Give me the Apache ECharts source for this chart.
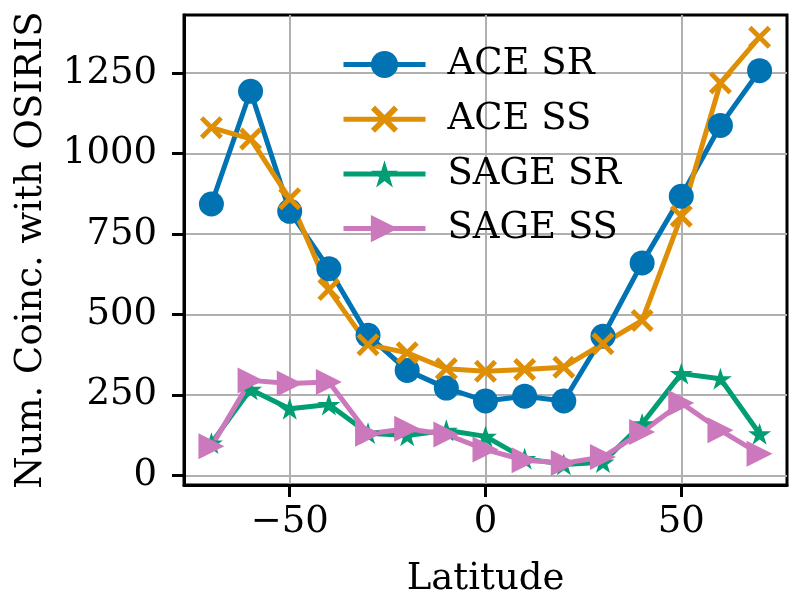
<!DOCTYPE html>
<html>
<head>
<meta charset="utf-8">
<script src="https://cdn.jsdelivr.net/npm/echarts@6/dist/echarts.min.js"></script>
<style>html,body{margin:0;padding:0;background:#fff;}#c{width:800px;height:606px;}</style>
</head>
<body>
<div id="c"></div>
<script>
const latitudes = [-70, -60, -50, -40, -30, -20, -10, 0, 10, 20, 30, 40, 50, 60, 70];
const aceSR  = [843, 1193, 820, 642, 435, 326, 271, 231, 246, 231, 432, 660, 867, 1087, 1257];
const aceSS  = [1080, 1045, 859, 577, 406, 381, 331, 323, 329, 336, 409, 481, 805, 1219, 1361];
const sageSR = [100, 267, 207, 220, 131, 124, 140, 121, 52, 34, 41, 160, 316, 300, 129];
const sageSS = [90, 295, 285, 290, 129, 145, 127, 80, 47, 38, 57, 135, 225, 140, 67];
const xTicks = [-50, 0, 50];
const yTicks = [0, 250, 500, 750, 1000, 1250];
const seriesNames = ['ACE SR', 'ACE SS', 'SAGE SR', 'SAGE SS'];
const colors = ['#0173b2', '#de8f05', '#029e73', '#cc78bc'];

const FONT = '"DejaVu Serif", serif';
const FS = 37;
const pair = arr => latitudes.map((x, i) => [x, arr[i]]);
const starPath = 'path://M0,-1 L0.2245,-0.309 L0.9511,-0.309 L0.3633,0.118 L0.5878,0.809 L0,0.382 L-0.5878,0.809 L-0.3633,0.118 L-0.9511,-0.309 L-0.2245,-0.309 Z';
const xPath = 'path://M0,1.5 L1.5,0 L5,3.5 L8.5,0 L10,1.5 L6.5,5 L10,8.5 L8.5,10 L5,6.5 L1.5,10 L0,8.5 L3.5,5 Z';
const triPath = 'path://M0,0 L1,0.5 L0,1 Z';
const symbols = ['circle', xPath, starPath, triPath];
const sizes = [25, 23, 23, 26];
const datasets = [aceSR, aceSS, sageSR, sageSS];

const chart = echarts.init(document.getElementById('c'), null, {renderer: 'canvas'});
chart.setOption({
  animation: false,
  backgroundColor: '#fff',
  grid: {left: 184, right: 13, top: 15, bottom: 121, show: true, borderColor: '#000', borderWidth: 3, backgroundColor: 'transparent'},
  legend: {
    orient: 'vertical', left: 336, top: 41,
    itemWidth: 82, itemHeight: 34, itemGap: 17.7,
    lineStyle: {width: 5},
    textStyle: {fontFamily: FONT, fontSize: FS, color: '#000', lineHeight: 37, padding: [0, 0, 0, 17]},
    data: seriesNames
  },
  xAxis: {
    type: 'value', min: -77, max: 77,
    name: 'Latitude', nameLocation: 'middle', nameGap: 76,
    nameTextStyle: {fontFamily: FONT, fontSize: FS, color: '#000'},
    axisLine: {show: true, onZero: false, lineStyle: {color: '#000', width: 3}},
    axisTick: {show: true, inside: false, length: 12, lineStyle: {color: '#000', width: 3}, customValues: xTicks},
    axisLabel: {fontFamily: FONT, fontSize: FS, color: '#000', margin: 19, customValues: xTicks,
      formatter: v => String(v).replace('-', '\u2212')},
    splitLine: {show: true, lineStyle: {color: '#b0b0b0', width: 2}}
  },
  yAxis: {
    type: 'value', min: -30, max: 1430,
    name: 'Num. Coinc. with OSIRIS', nameLocation: 'middle', nameGap: 134,
    nameTextStyle: {fontFamily: FONT, fontSize: FS, color: '#000'},
    axisLine: {show: true, onZero: false, lineStyle: {color: '#000', width: 3}},
    axisTick: {show: true, inside: false, length: 12, lineStyle: {color: '#000', width: 3}, customValues: yTicks},
    axisLabel: {fontFamily: FONT, fontSize: FS, color: '#000', margin: 27, customValues: yTicks,
      formatter: v => String(v)},
    splitLine: {show: true, lineStyle: {color: '#b0b0b0', width: 2}}
  },
  series: datasets.map((d, i) => ({
    name: seriesNames[i], type: 'line', data: pair(d),
    symbol: symbols[i], symbolSize: sizes[i], symbolKeepAspect: true, showAllSymbol: true,
    lineStyle: {color: colors[i], width: 5},
    itemStyle: {color: colors[i], borderWidth: 0},
    emphasis: {disabled: true}
  }))
});
</script>
</body>
</html>
